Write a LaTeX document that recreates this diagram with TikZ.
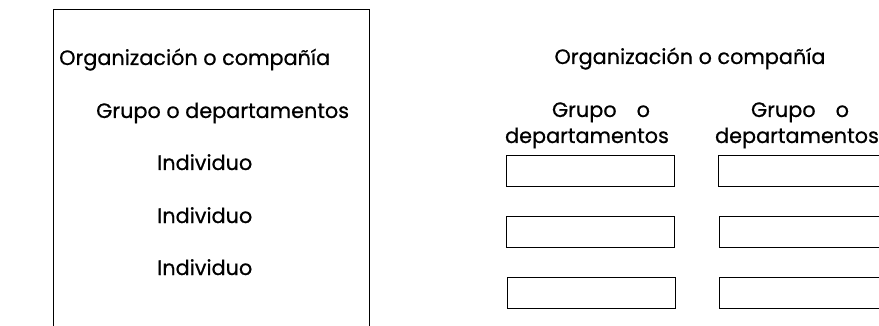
\documentclass[tikz,border=0pt]{standalone}
\usepackage{fontspec}
\setmainfont{Poppins}[FakeBold=0.6]
\begin{document}
\begin{tikzpicture}[x=1pt,y=-1pt,
  lbl/.style={inner sep=0pt, font=\fontsize{20.8}{26}\selectfont},
  slot/.style={draw, line width=0.9pt, minimum width=168pt, minimum height=31pt, inner sep=0pt, anchor=north west},
  frame/.style={draw, line width=0.9pt}]
\useasboundingbox (0,0) rectangle (879,326);
\begin{scope}
\clip (0,0) rectangle (879,326);
% left frame
\coordinate (fbl) at (53,326);
\coordinate (ftl) at (53,9);
\coordinate (ftr) at (369,9);
\coordinate (fbr) at (369,326);
\draw[frame] (fbl) -- (ftl) -- (ftr) -- (fbr);
\node[lbl, anchor=base west] (lorg) at (59,65) {Organización o compañía};
\node[lbl, anchor=base west] (lgrp) at (96,118) {Grupo o departamentos};
\node[lbl, anchor=base west] (ind1) at (157,170) {Individuo};
\node[lbl, anchor=base west] (ind2) at (157,223) {Individuo};
\node[lbl, anchor=base west] (ind3) at (157,275) {Individuo};
% right part
\node[lbl, anchor=base] (rorg) at (690,64) {Organización o compañía};
\node[lbl, anchor=base] (g1a) at (601,117) {Grupo\hspace{20pt}o};
\node[lbl, anchor=base] (g1b) at (587,143) {departamentos};
\node[lbl, anchor=base] (g2a) at (800,117) {Grupo\hspace{20pt}o};
\node[lbl, anchor=base] (g2b) at (797,143) {departamentos};
\node[slot] (b11) at (506,155) {};
\node[slot] (b12) at (506,216) {};
\node[slot] (b13) at (507,277) {};
\node[slot] (b21) at (718,155) {};
\node[slot] (b22) at (719,216) {};
\node[slot] (b23) at (719,277) {};
\end{scope}
\end{tikzpicture}
\end{document}
